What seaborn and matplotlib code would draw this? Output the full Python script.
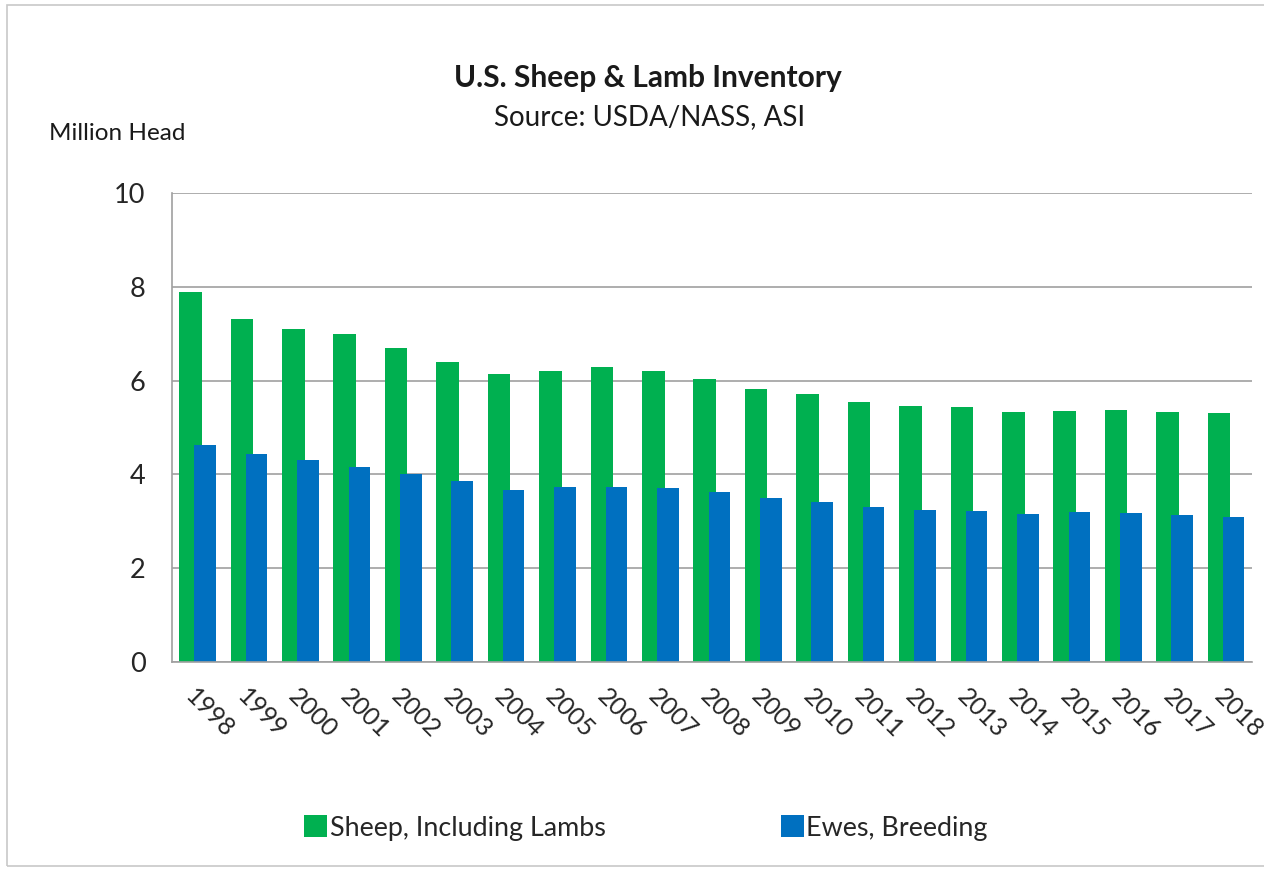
import matplotlib
matplotlib.use("Agg")
import matplotlib.pyplot as plt
import seaborn as sns
import pandas as pd
from matplotlib.patches import Patch, Rectangle

years = [str(y) for y in range(1998, 2019)]
sheep = [7.89, 7.31, 7.10, 6.99, 6.70, 6.40, 6.14, 6.20, 6.29, 6.20, 6.03,
         5.82, 5.71, 5.54, 5.46, 5.44, 5.33, 5.35, 5.37, 5.33, 5.31]
ewes = [4.63, 4.43, 4.31, 4.16, 4.01, 3.86, 3.67, 3.73, 3.73, 3.71, 3.62,
        3.50, 3.41, 3.30, 3.24, 3.22, 3.16, 3.20, 3.18, 3.13, 3.09]
series = ["Sheep, Including Lambs", "Ewes, Breeding"]
colors = ["#00B050", "#0070C0"]
yticks = [0, 2, 4, 6, 8, 10]

df = pd.DataFrame({
    "year": years * 2,
    "value": sheep + ewes,
    "series": [series[0]] * len(years) + [series[1]] * len(years),
})

sns.set_theme(style="white")
plt.rcParams["font.family"] = ["Lato", "DejaVu Sans"]

fig = plt.figure(figsize=(12.64, 8.71), dpi=100)
ax = fig.add_axes([172 / 1264, 1 - 662 / 871, (1252 - 172) / 1264, (662 - 193) / 871])

sns.barplot(data=df, x="year", y="value", hue="series", hue_order=series,
            palette=colors, width=0.57, dodge=True, ax=ax, legend=False,
            saturation=1, linewidth=0)

# widen bars so they overlap like the original
n = len(years)
for i, p in enumerate(ax.patches[:2 * n]):
    neww = 0.44 if i < n else 0.42
    cx = p.get_x() + p.get_width() / 2
    p.set_x(cx - neww / 2)
    p.set_width(neww)

ax.set_xlim(-0.5, n - 0.5)
ax.set_ylim(0, 10)
ax.set_yticks(yticks)
ax.set_yticklabels([str(t) for t in yticks], fontsize=19.5)
ax.set_xlabel("")
ax.set_ylabel("")
ax.tick_params(axis="x", labelsize=18, length=0, pad=16)
ax.tick_params(axis="y", length=0, pad=19)
for lbl in ax.get_xticklabels():
    lbl.set_rotation(-45)
    lbl.set_ha("left")
    lbl.set_va("top")
    lbl.set_rotation_mode("anchor")

ax.yaxis.grid(True, color="#A0A0A0", linewidth=1.2)
ax.set_axisbelow(True)
for s in ["top", "right"]:
    ax.spines[s].set_visible(False)
for s in ["left", "bottom"]:
    ax.spines[s].set_color("#A0A0A0")
    ax.spines[s].set_linewidth(1.2)

fig.text(648 / 1264, 1 - 78 / 871, "U.S. Sheep & Lamb Inventory", ha="center",
         va="center", fontsize=21.5, fontweight="bold", color="#1a1a1a")
fig.text(650 / 1264, 1 - 117 / 871, "Source: USDA/NASS, ASI", ha="center",
         va="center", fontsize=20, color="#1a1a1a")
fig.text(49 / 1264, 1 - 133 / 871, "Million Head", ha="left", va="center",
         fontsize=17.5, color="#1a1a1a")

handles = [Patch(facecolor=c, edgecolor="none") for c in colors]
fig.legend(handles, series, loc="center", bbox_to_anchor=(646 / 1264, 1 - 828 / 871),
           ncol=2, frameon=False, fontsize=19.4, handlelength=0.85, handleheight=0.85,
           handletextpad=0.1, columnspacing=6.5)

fig.patches.append(Rectangle((7 / 1264, 5 / 871), 1.2, 1 - 10 / 871,
                             transform=fig.transFigure, fill=False,
                             edgecolor="#C8C8C8", linewidth=1.2))

fig.savefig("out.png", dpi=100)
